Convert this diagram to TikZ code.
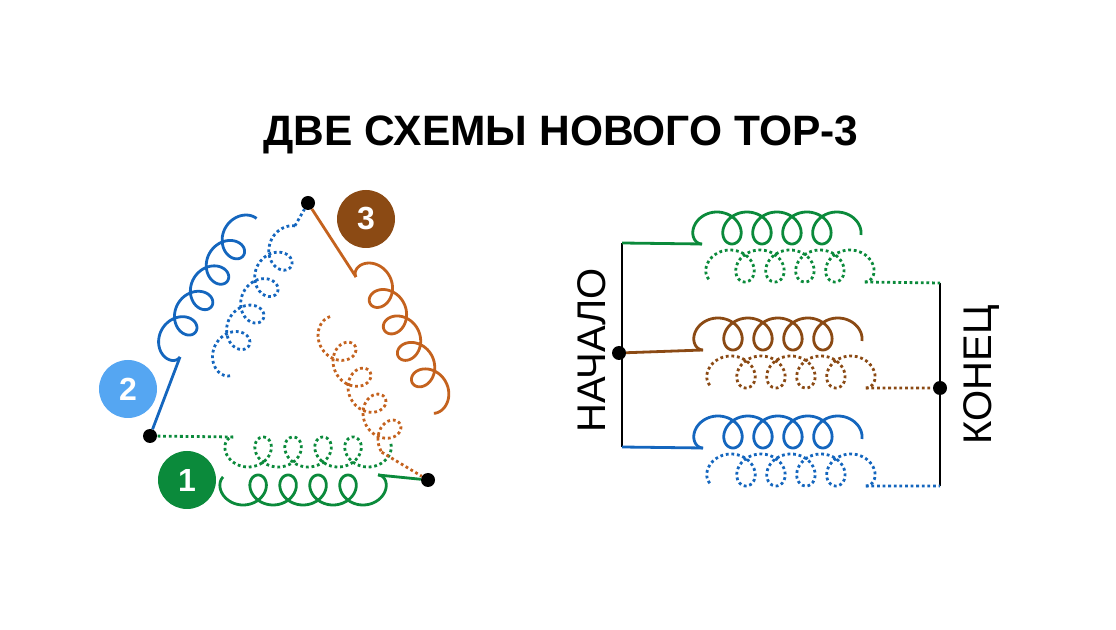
\documentclass[tikz,border=0pt]{standalone}
\usepackage{fontspec}
\setmainfont{Liberation Sans}
\definecolor{cg}{HTML}{0B8A3B}
\definecolor{cb}{HTML}{1466BE}
\definecolor{cbr}{HTML}{8B4A14}
\definecolor{cor}{HTML}{C4621E}
\definecolor{cl}{HTML}{55A6F2}
\newcommand\coilplot[4]{plot[domain=#1:#2,samples=260,smooth,variable=\t] ({4.77*\t-#4*sin(\t r)},{#3*(1-cos(\t r))})}
\tikzset{
 sol/.style={line width=2.8pt},
 dot/.style={line width=2.8pt,dash pattern=on 2.8pt off 2.8pt},
 blk/.style={circle,fill=black,inner sep=0pt,minimum size=14pt},
 badge/.style={circle,inner sep=0pt,minimum size=58pt,text=white,font=\bfseries\fontsize{32}{32}\selectfont},
 lbl/.style={rotate=90,font=\fontsize{40}{40}\selectfont}
}
\begin{document}
\begin{tikzpicture}[x=1pt,y=1pt]
\useasboundingbox (0,0) rectangle (1116,629);
\node (title) at (561,494) {\bfseries\fontsize{42.5}{42.5}\selectfont ДВЕ СХЕМЫ НОВОГО ТОР-3};
% ---------- right diagram
\coordinate (tl) at (622,386);
\coordinate (bl) at (622,182);
\coordinate (tr) at (940,346);
\coordinate (br) at (940,143);
\node[blk] (n) at (619,276) {};
\node[blk] (k) at (940,241) {};
\draw[sol] (tl) -- (bl);
\draw[sol] (tr) -- (br);
% green
\draw[sol,cg,shift={(702,385)}] \coilplot{0}{30.3}{16}{16};
\draw[sol,cg] (tl) -- (702,385);
\draw[dot,cg,shift={(715,347)}] \coilplot{0.6}{31.42}{16}{16} coordinate (g2e);
\draw[dot,cg] (g2e) -- (tr);
% brown
\draw[sol,cbr,shift={(703,279)}] \coilplot{0}{30.3}{16}{16};
\draw[sol,cbr] (n) -- (703,279);
\draw[dot,cbr,shift={(716,241)}] \coilplot{0.6}{31.42}{16}{16} coordinate (b2e);
\draw[dot,cbr] (b2e) -- (k);
% blue
\draw[sol,cb,shift={(703,181)}] \coilplot{0}{30.3}{16}{16};
\draw[sol,cb] (bl) -- (703,181);
\draw[dot,cb,shift={(716,143)}] \coilplot{0.6}{31.42}{16}{16} coordinate (u2e);
\draw[dot,cb] (u2e) -- (br);
\node[lbl] (nach) at (592,279) {НАЧАЛО};
\node[lbl] (kon) at (982,254) {КОНЕЦ};
% ---------- left diagram
\node[blk] (A) at (308,426) {};
\node[blk] (B) at (150,193) {};
\node[blk] (C) at (428,149) {};
% green
\draw[sol,cg,shift={(378,154)},rotate=180] \coilplot{0}{30.9}{15}{15};
\draw[sol,cg] (C) -- (378,154);
\draw[dot,cg,shift={(383,192)},rotate=180] \coilplot{1.0}{31.42}{15}{15} coordinate (gle);
\draw[dot,cg] (gle) -- (B);
% blue
\draw[sol,cb,shift={(180,272)},rotate=58] \coilplot{0}{30.3}{15}{15};
\draw[sol,cb] (B) -- (180,272);
\draw[dot,cb,shift={(235,257)},rotate=62] \coilplot{0.6}{29.8}{15}{15} coordinate (ble);
\draw[dot,cb] (ble) -- (A);
% brown
\draw[sol,cor,shift={(356,352)},rotate=-62] \coilplot{0}{30.6}{15}{15};
\draw[sol,cor] (A) -- (356,352);
\draw[dot,cor,shift={(340,309)},rotate=-60,yscale=-1] \coilplot{1.0}{28.3}{15}{15} coordinate (bre);
\draw[dot,cor] (bre) -- (C);
% badges
\node[badge,fill=cbr] (b3) at (366,410) {3};
\node[badge,fill=cl] (b2) at (128,240) {2};
\node[badge,fill=cg] (b1) at (187,149) {1};
\end{tikzpicture}
\end{document}
